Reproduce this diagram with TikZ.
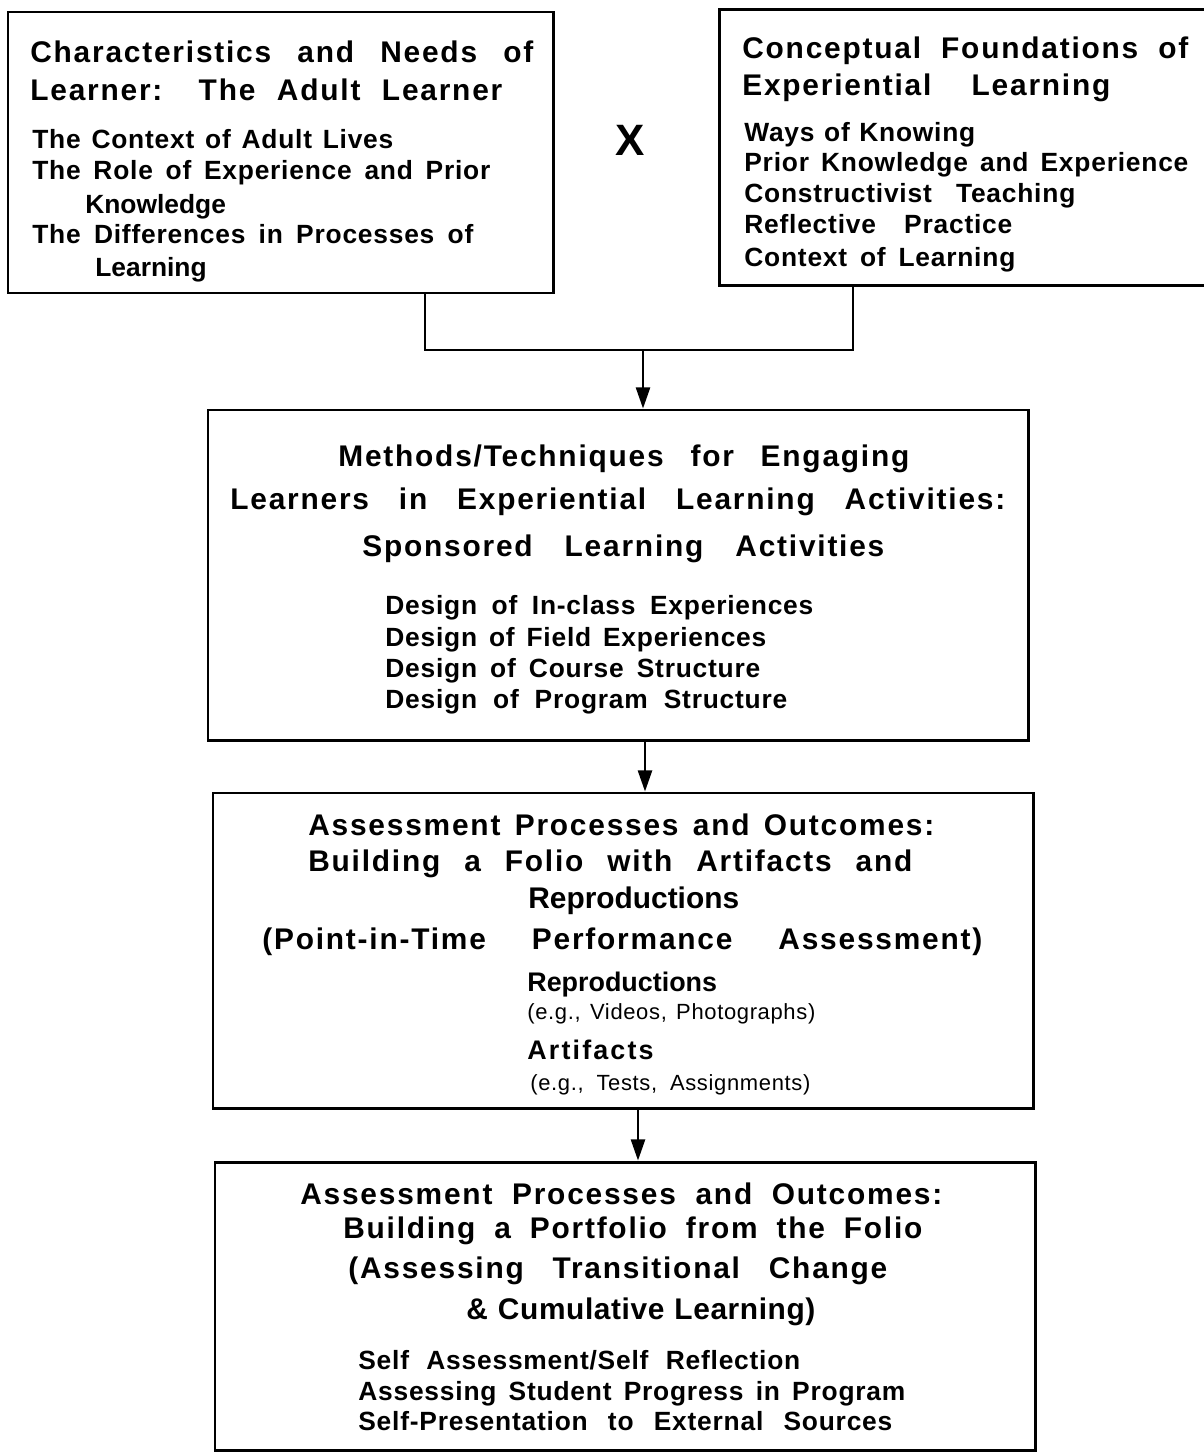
\documentclass[tikz,border=0pt]{standalone}
\usepackage{fontspec}
\setmainfont{Liberation Sans}
\usetikzlibrary{arrows.meta}
\newlength{\pxunit}\setlength{\pxunit}{0.2mm}
\newcommand{\spread}[3][6]{\makebox[#2\pxunit][s]{\addfontfeature{LetterSpace=#1}#3}}
\hbadness=10000
\hfuzz=20pt
\begin{document}
\begin{tikzpicture}[x=0.2mm, y=-0.2mm,
  box/.style={draw, line width=1.7pt, inner sep=0pt},
  head/.style={anchor=base west, inner sep=0pt, font=\fontsize{17}{20}\selectfont\bfseries},
  item/.style={anchor=base west, inner sep=0pt, font=\fontsize{15}{18}\selectfont\bfseries},
  note/.style={anchor=base west, inner sep=0pt, font=\fontsize{12.5}{15}\selectfont},
  link/.style={line width=1.3pt},
  arr/.style={line width=1.3pt, -{Triangle[length=12pt,width=8pt]}}]
\useasboundingbox (0,0) rectangle (1204,1454);
\begin{scope}
\node[box, minimum width=109mm, minimum height=56.2mm] (learner) at (280.5,152.5) {};
\node[inner sep=0pt, minimum width=96.8mm, minimum height=55mm] (concept) at (962,147.5) {};
\draw[line width=1.7pt] (concept.north east) -- (concept.north west) -- (concept.south west) -- (concept.south east);
\node[box, minimum width=164mm, minimum height=66mm] (methods) at (618,575) {};
\node[box, minimum width=164mm, minimum height=63mm] (folio) at (623,950.5) {};
\node[box, minimum width=164mm, minimum height=57.6mm] (portfolio) at (625,1306) {};

\node[font=\fontsize{25}{30}\selectfont\bfseries] (cross) at (630,140) {X};

% connectors
\coordinate (jl) at (425,350);
\coordinate (jr) at (853,350);
\coordinate (jm) at (643,350);
\coordinate (a2) at (645,0);
\coordinate (a3) at (638,0);
\draw[link] (learner.south -| jl) -- (jl) -- (jr) -- (concept.south -| jr);
\draw[arr] (jm) -- (methods.north -| jm);
\draw[arr] (methods.south -| a2) -- (folio.north -| a2);
\draw[arr] (folio.south -| a3) -- (portfolio.north -| a3);

% learner
\node[head] (l1) at (30,63) {\spread{503}{Characteristics and Needs of}};
\node[head] (l2) at (30,101) {\spread{472}{Learner: The Adult Learner}};
\node[item] (l3) at (32,149) {\spread[3]{361}{The Context of Adult Lives}};
\node[item] (l4) at (32,180) {\spread[3]{458}{The Role of Experience and Prior}};
\node[item] (l5) at (85,213) {Knowledge};
\node[item] (l6) at (32,244) {\spread[3]{441}{The Differences in Processes of}};
\node[item] (l7) at (95,276) {Learning};

% concepts
\node[head] (c1) at (742,59) {\spread{446}{Conceptual Foundations of}};
\node[head] (c2) at (742,96) {\spread{368}{Experiential Learning}};
\node[item] (c3) at (744,142) {\spread[3]{231}{Ways of Knowing}};
\node[item] (c4) at (744,172) {\spread[3]{444}{Prior Knowledge and Experience}};
\node[item] (c5) at (744,203) {\spread[3]{331}{Constructivist Teaching}};
\node[item] (c6) at (744,234) {\spread[3]{268}{Reflective Practice}};
\node[item] (c7) at (744,266) {\spread[3]{271}{Context of Learning}};

% methods
\node[head] (m1) at (338,466) {\spread{571}{Methods/Techniques for Engaging}};
\node[head] (m2) at (230,509) {\spread{775}{Learners in Experiential Learning Activities:}};
\node[head] (m3) at (362,556) {\spread{522}{Sponsored Learning Activities}};
\node[item] (m4) at (385,614) {\spread[3]{428}{Design of In-class Experiences}};
\node[item] (m5) at (385,646) {\spread[3]{381}{Design of Field Experiences}};
\node[item] (m6) at (385,677) {\spread[3]{375}{Design of Course Structure}};
\node[item] (m7) at (385,708) {\spread[3]{402}{Design of Program Structure}};

% folio
\node[head] (f1) at (308,835) {\spread{626}{Assessment Processes and Outcomes:}};
\node[head] (f2) at (308,871) {\spread{604}{Building a Folio with Artifacts and}};
\node[head] (f3) at (528,908) {Reproductions};
\node[head] (f4) at (262,949) {\spread{720}{(Point-in-Time Performance Assessment)}};
\node[item, font=\fontsize{15.3}{18}\selectfont\bfseries] (f5) at (527,991) {Reproductions};
\node[note] (f6) at (527,1019) {\spread[3]{288}{(e.g., Videos, Photographs)}};
\node[item, font=\fontsize{15.3}{18}\selectfont\bfseries] (f7) at (527,1059) {\addfontfeature{LetterSpace=8}Artifacts};
\node[note] (f8) at (530,1090) {\spread[3]{280}{(e.g., Tests, Assignments)}};

% portfolio
\node[head] (p1) at (300,1204) {\spread{642}{Assessment Processes and Outcomes:}};
\node[head] (p2) at (343,1238) {\spread{579}{Building a Portfolio from the Folio}};
\node[head] (p3) at (348,1278) {\spread{539}{(Assessing Transitional Change}};
\node[head] (p4) at (466,1319) {\spread[2]{349}{\& Cumulative Learning)}};
\node[item] (p5) at (358,1369) {\spread[3]{442}{Self Assessment/Self Reflection}};
\node[item] (p6) at (358,1400) {\spread[3]{547}{Assessing Student Progress in Program}};
\node[item] (p7) at (358,1430) {\spread[3]{534}{Self-Presentation to External Sources}};
\end{scope}
\end{tikzpicture}
\end{document}
